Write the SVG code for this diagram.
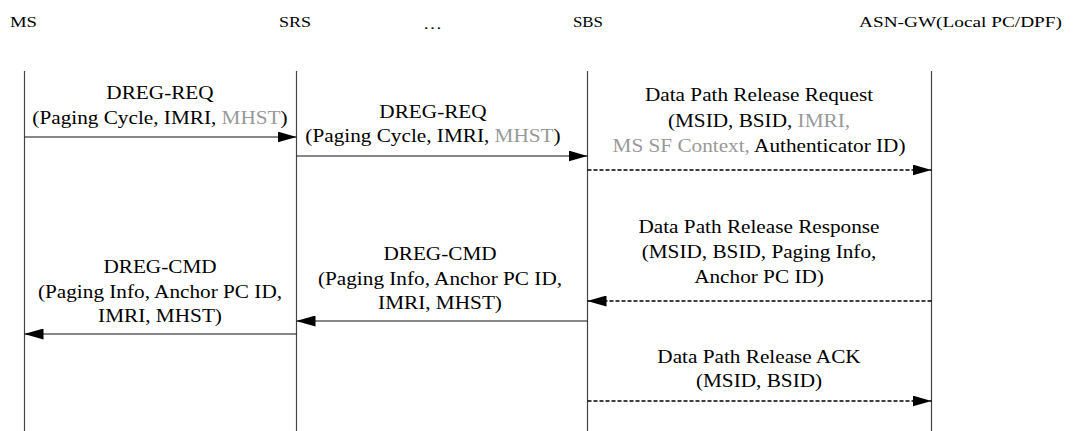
<svg xmlns="http://www.w3.org/2000/svg" width="1074" height="431" viewBox="0 0 1074 431">
<style>
.hdr{font-family:'Liberation Serif',Tinos,'Times New Roman',Times,'DejaVu Serif',serif;font-size:15px;fill:#000}
.lbl{font-family:'Liberation Serif',Tinos,'Times New Roman',Times,'DejaVu Serif',serif;font-size:18px;fill:#000;text-anchor:middle}
.g{fill:#999}
.life{stroke:#444;stroke-width:1.2;fill:none}
.msg{stroke:#111;stroke-width:1.2;fill:none;marker-end:url(#ah)}
.dash{stroke:#000;stroke-width:1.3;stroke-dasharray:4 2}
</style>
<defs>
<marker id="ah" markerUnits="userSpaceOnUse" markerWidth="19" markerHeight="11" refX="19" refY="5.5" orient="auto">
<path d="M0,0 L19,5.5 L0,11 Z" fill="#000"/>
</marker>
</defs>
<rect width="1074" height="431" fill="#fff"/>
<g id="node-ms">
<text class="hdr" x="10" y="27" textLength="27" lengthAdjust="spacingAndGlyphs">MS</text>
<line class="life" x1="24.5" y1="71" x2="24.5" y2="431"/>
</g>
<g id="node-srs">
<text class="hdr" x="279" y="27" textLength="32" lengthAdjust="spacingAndGlyphs">SRS</text>
<line class="life" x1="296.5" y1="71" x2="296.5" y2="431"/>
</g>
<g id="node-dots">
<text class="hdr" x="423" y="29" textLength="19" lengthAdjust="spacingAndGlyphs">…</text>
</g>
<g id="node-sbs">
<text class="hdr" x="573" y="27" textLength="30" lengthAdjust="spacingAndGlyphs">SBS</text>
<line class="life" x1="587.5" y1="71" x2="587.5" y2="431"/>
</g>
<g id="node-asngw">
<text class="hdr" x="859" y="27" textLength="203" lengthAdjust="spacingAndGlyphs">ASN-GW(Local PC/DPF)</text>
<line class="life" x1="931.5" y1="71" x2="931.5" y2="431"/>
</g>
<g id="connectors">
<line class="msg" x1="24.5" y1="137" x2="296.5" y2="137"/>
<line class="msg" x1="296.5" y1="156" x2="587.5" y2="156"/>
<line class="msg dash" x1="587.5" y1="170" x2="931.5" y2="170"/>
<line class="msg dash" x1="931.5" y1="301" x2="587.5" y2="301"/>
<line class="msg" x1="587.5" y1="321" x2="296.5" y2="321"/>
<line class="msg" x1="296.5" y1="334" x2="24.5" y2="334"/>
<line class="msg dash" x1="587.5" y1="401" x2="931.5" y2="401"/>
</g>
<g id="labels">
<g transform="translate(160 0) scale(1.18 1)">
<text class="lbl" x="0" y="99">DREG-REQ</text>
<text class="lbl" x="0" y="124">(Paging Cycle, IMRI, <tspan class="g">MHST</tspan>)</text>
</g>
<g transform="translate(433 0) scale(1.18 1)">
<text class="lbl" x="0" y="118">DREG-REQ</text>
<text class="lbl" x="0" y="142">(Paging Cycle, IMRI, <tspan class="g">MHST</tspan>)</text>
</g>
<g transform="translate(759 0) scale(1.18 1)">
<text class="lbl" x="0" y="101">Data Path Release Request</text>
<text class="lbl" x="0" y="127">(MSID, BSID, <tspan class="g">IMRI,</tspan></text>
<text class="lbl" x="0" y="152"><tspan class="g">MS SF Context,</tspan> Authenticator ID)</text>
</g>
<g transform="translate(759 0) scale(1.18 1)">
<text class="lbl" x="0" y="233">Data Path Release Response</text>
<text class="lbl" x="0" y="258">(MSID, BSID, Paging Info,</text>
<text class="lbl" x="0" y="283">Anchor PC ID)</text>
</g>
<g transform="translate(440 0) scale(1.18 1)">
<text class="lbl" x="0" y="260">DREG-CMD</text>
<text class="lbl" x="0" y="285">(Paging Info, Anchor PC ID,</text>
<text class="lbl" x="0" y="309">IMRI, MHST)</text>
</g>
<g transform="translate(160 0) scale(1.18 1)">
<text class="lbl" x="0" y="273">DREG-CMD</text>
<text class="lbl" x="0" y="298">(Paging Info, Anchor PC ID,</text>
<text class="lbl" x="0" y="322">IMRI, MHST)</text>
</g>
<g transform="translate(759 0) scale(1.18 1)">
<text class="lbl" x="0" y="363">Data Path Release ACK</text>
<text class="lbl" x="0" y="387">(MSID, BSID)</text>
</g>
</g>
</svg>
